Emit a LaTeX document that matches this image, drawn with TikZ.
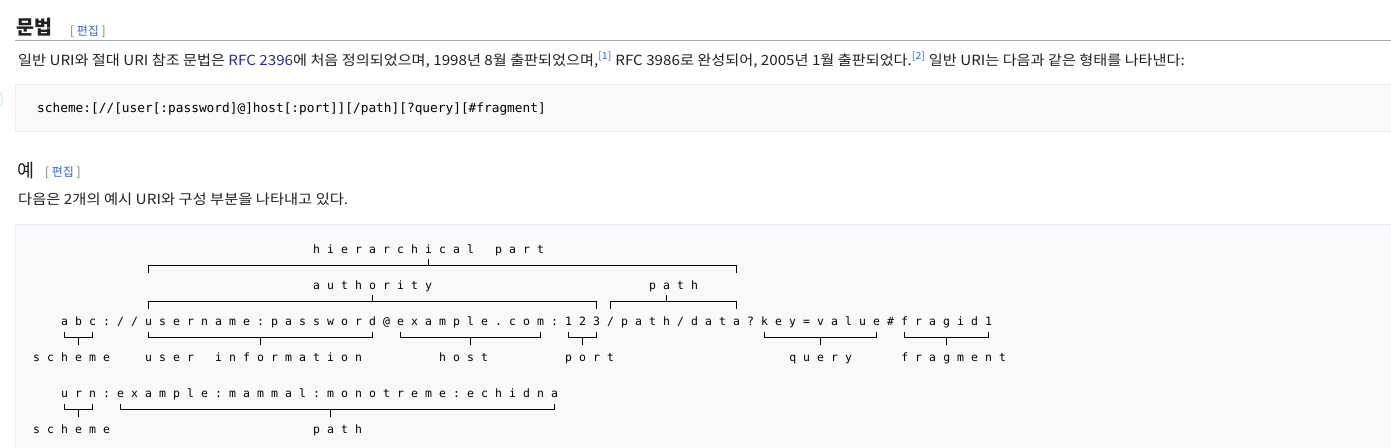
\documentclass[tikz,border=0pt]{standalone}
\usepackage{fontspec}
\setmainfont{Noto Sans CJK KR}
\newfontfamily\monofont{DejaVu Sans Mono}
\usetikzlibrary{positioning}

\definecolor{wikitext}{HTML}{202122}
\definecolor{wikilink}{HTML}{3366CC}
\definecolor{visited}{HTML}{2B2B8C}
\definecolor{editgray}{HTML}{72777D}
\definecolor{codebg}{HTML}{F8F9FA}
\definecolor{codeborder}{HTML}{EAECF0}
\definecolor{rulegray}{HTML}{A2A9B1}
\definecolor{ringblue}{HTML}{CFEAF8}

% one character per fixed cell
\makeatletter
\newcommand{\cells}[1]{\@tfor\cellch:=#1\do{\makebox[14pt]{\cellch}}}
\makeatother
\newcommand{\editlink}{{\color{editgray}[}\ {\color{wikilink}편집}\ {\color{editgray}]}}

\begin{document}
\begin{tikzpicture}[x=1pt,y=-1pt,
		wiki/.style={inner sep=0pt, anchor=base west, text=wikitext},
		edit/.style={inner sep=0pt, anchor=base west, font=\fontsize{12}{13}\selectfont},
		mono/.style={inner sep=0pt, anchor=base west, text=black,
			font=\monofont\fontsize{11.5}{12}\selectfont},
		brk/.style={line width=1pt, black},
		codebox/.style={fill=codebg, draw=codeborder, line width=1pt}]
	\fill[white] (0,0) rectangle (1391,447);
	\useasboundingbox (0,0) rectangle (1391,447);

	% page around the example
	\node[wiki, font=\bfseries\fontsize{19.5}{22}\selectfont] (syntax) at (16,34) {문법};
	\node[edit] (edit1) at (70,35) {\editlink};
	\draw[rulegray, line width=1pt] (15,40.5) -- (1391,40.5);
	\node[wiki, font=\fontsize{14}{16}\selectfont] (intro) at (18,65)
		{\scalebox{1.085}[1]{일반 URI와 절대 URI 참조 문법은 {\color{visited}RFC 2396}에 처음 정의되었으며, 1998년 8월 출판되었으며,\textsuperscript{\color{wikilink}[1]} RFC 3986로 완성되어, 2005년 1월 출판되었다.\textsuperscript{\color{wikilink}[2]} 일반 URI는 다음과 같은 형태를 나타낸다:}};
	\draw[ringblue, line width=1pt] (-9,99) circle (11.5);
	\draw[codebox] (15,84.5) rectangle (1400,131.5);
	\node[inner sep=0pt, anchor=base west, font=\monofont\fontsize{12.8}{14}\selectfont] (form) at (37,112)
		{scheme:[//[user[:password]@]host[:port]][/path][?query][\#fragment]};
	\node[wiki, font=\fontsize{18.5}{20}\selectfont] (example) at (17,177) {예};
	\node[edit] (edit2) at (45,176) {\editlink};
	\node[wiki, font=\fontsize{14}{16}\selectfont] (lead) at (18,204)
		{\scalebox{1.095}[1]{다음은 2개의 예시 URI와 구성 부분을 나타내고 있다.}};
	\draw[codebox] (15,224.5) rectangle (1400,460);

	% the two example URIs and their parts
	\node[mono] (hier) at ({57.5+14*18},253) {\cells{hierarchical~part}};
	\node[mono] (auth) at ({57.5+14*18},289) {\cells{authority}};
	\node[mono] (hpath) at ({57.5+14*42},289) {\cells{path}};
	\node[mono] (uri) at (57.5,325) {\cells{abc://username:password@example.com:123/path/data?key=value\#fragid1}};
	\node[mono] (scheme) at ({57.5-14*2},361) {\cells{scheme}};
	\node[mono] (user) at ({57.5+14*6},361) {\cells{user~information}};
	\node[mono] (host) at ({57.5+14*27},361) {\cells{host}};
	\node[mono] (port) at ({57.5+14*36},361) {\cells{port}};
	\node[mono] (query) at ({57.5+14*52},361) {\cells{query}};
	\node[mono] (frag) at ({57.5+14*60},361) {\cells{fragment}};
	\node[mono] (urn) at (57.5,397) {\cells{urn:example:mammal:monotreme:echidna}};
	\node[mono] (uscheme) at ({57.5-14*2},433) {\cells{scheme}};
	\node[mono] (upath) at ({57.5+14*18},433) {\cells{path}};

	\foreach \nm/\a/\b/\c/\y/\e/\t in {hierb/6/48/26/265.5/7/-7, authb/6/38/22/301.5/7/-7,
			hpathb/39/48/43/301.5/7/-7, schb/0/2/1/337.5/-6/7, userb/6/22/14/337.5/-6/7,
			hostb/24/34/29/337.5/-6/7, portb/36/38/37/337.5/-6/7, queryb/50/58/54/337.5/-6/7,
			fragb/60/66/63/337.5/-6/7, uschb/0/2/1/409.5/-6/7, upathb/4/35/19/409.5/-6/7}{
		\coordinate (\nm-l) at ({64.5+14*\a},\y);
		\coordinate (\nm-r) at ({64.5+14*\b},\y);
		\coordinate (\nm-t) at ({64.5+14*\c},\y);
		\draw[brk] (\nm-l) ++(0,\e) -- (\nm-l) -- (\nm-r) -- ++(0,\e);
		\draw[brk] (\nm-t) -- ++(0,\t);
	}
\end{tikzpicture}
\end{document}
